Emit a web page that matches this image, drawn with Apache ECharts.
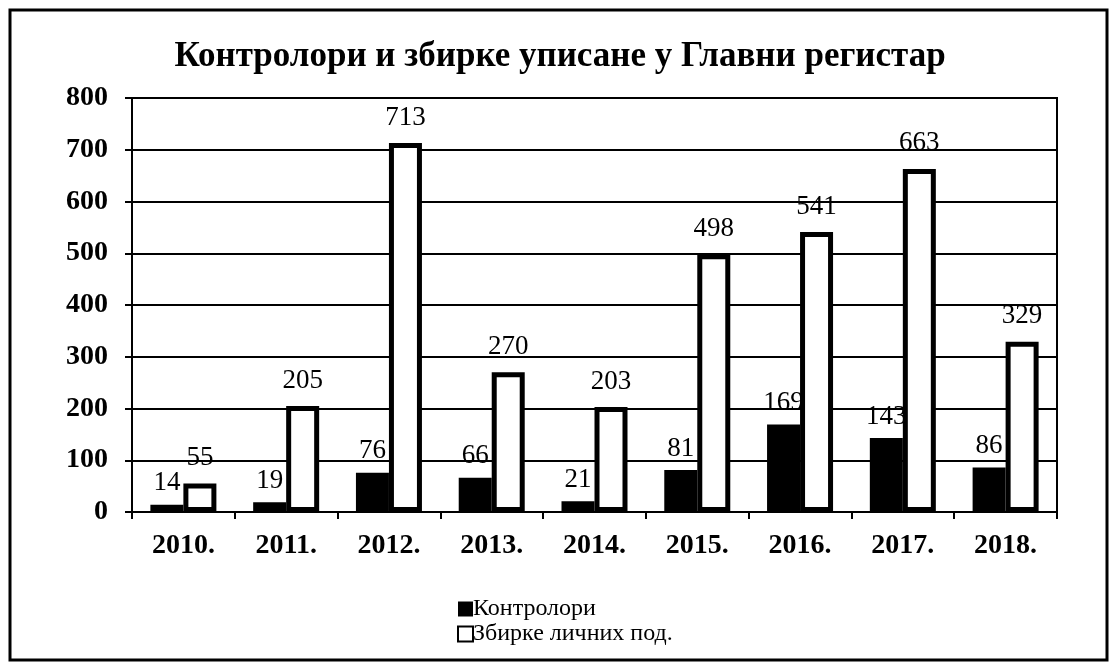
<!DOCTYPE html>
<html>
<head>
<meta charset="utf-8">
<script src="https://cdn.jsdelivr.net/npm/echarts@6/dist/echarts.min.js"></script>
<style>
  html, body { margin: 0; padding: 0; background: #fff; }
  #main { width: 1120px; height: 670px; }
</style>
</head>
<body>
<div id="main"></div>
<script>
var years = ['2010.', '2011.', '2012.', '2013.', '2014.', '2015.', '2016.', '2017.', '2018.'];
var kontrolori = [14, 19, 76, 66, 21, 81, 169, 143, 86];
var zbirke = [55, 205, 713, 270, 203, 498, 541, 663, 329];
var seriesNames = ['Контролори', 'Збирке личних под.'];

var serif = '"Liberation Serif", "DejaVu Serif", serif';
var chart = echarts.init(document.getElementById('main'));

var option = {
  animation: false,
  backgroundColor: '#fff',
  title: {
    text: 'Контролори и збирке уписане у Главни регистар',
    left: 'center',
    top: 34,
    textStyle: { fontFamily: serif, fontSize: 35, fontWeight: 'bold', color: '#000' }
  },
  graphic: [{
    type: 'rect',
    shape: { x: 10, y: 10, width: 1097, height: 650 },
    style: { fill: 'none', stroke: '#000', lineWidth: 3 }
  }],
  legend: {
    orient: 'vertical',
    left: 452,
    top: 592,
    itemWidth: 15,
    itemHeight: 15,
    itemGap: 1,
    icon: 'rect',
    textStyle: { fontFamily: serif, fontSize: 24, lineHeight: 22, color: '#000', padding: [0, 0, 0, -5] },
    data: seriesNames
  },
  grid: {
    left: 132, right: 63, top: 98, bottom: 158,
    show: true, borderColor: '#000', borderWidth: 2
  },
  xAxis: {
    type: 'category',
    data: years,
    axisLine: { lineStyle: { color: '#000', width: 2 } },
    axisTick: { show: true, length: 7, lineStyle: { color: '#000', width: 2 } },
    axisLabel: { fontFamily: serif, fontSize: 28, fontWeight: 'bold', color: '#000', margin: 20 }
  },
  yAxis: {
    type: 'value',
    min: 0, max: 800, interval: 100,
    axisLine: { show: true, lineStyle: { color: '#000', width: 2 } },
    axisTick: { show: true, length: 7, lineStyle: { color: '#000', width: 2 } },
    splitLine: { lineStyle: { color: '#000', width: 2 } },
    axisLabel: { fontFamily: serif, fontSize: 28, fontWeight: 'bold', color: '#000', margin: 24 }
  },
  series: [{
    name: seriesNames[0],
    type: 'bar',
    data: kontrolori,
    barWidth: 33,
    barGap: '0%',
    itemStyle: { color: '#000' },
    label: {
      show: true, position: 'top', distance: 8,
      fontFamily: serif, fontSize: 27, color: '#000'
    }
  }, {
    name: seriesNames[1],
    type: 'bar',
    data: zbirke,
    barWidth: 33,
    itemStyle: { color: '#fff', borderColor: '#000', borderWidth: 5 },
    label: {
      show: true, position: 'top', distance: 12,
      fontFamily: serif, fontSize: 27, color: '#000'
    }
  }]
};
chart.setOption(option);
</script>
</body>
</html>
